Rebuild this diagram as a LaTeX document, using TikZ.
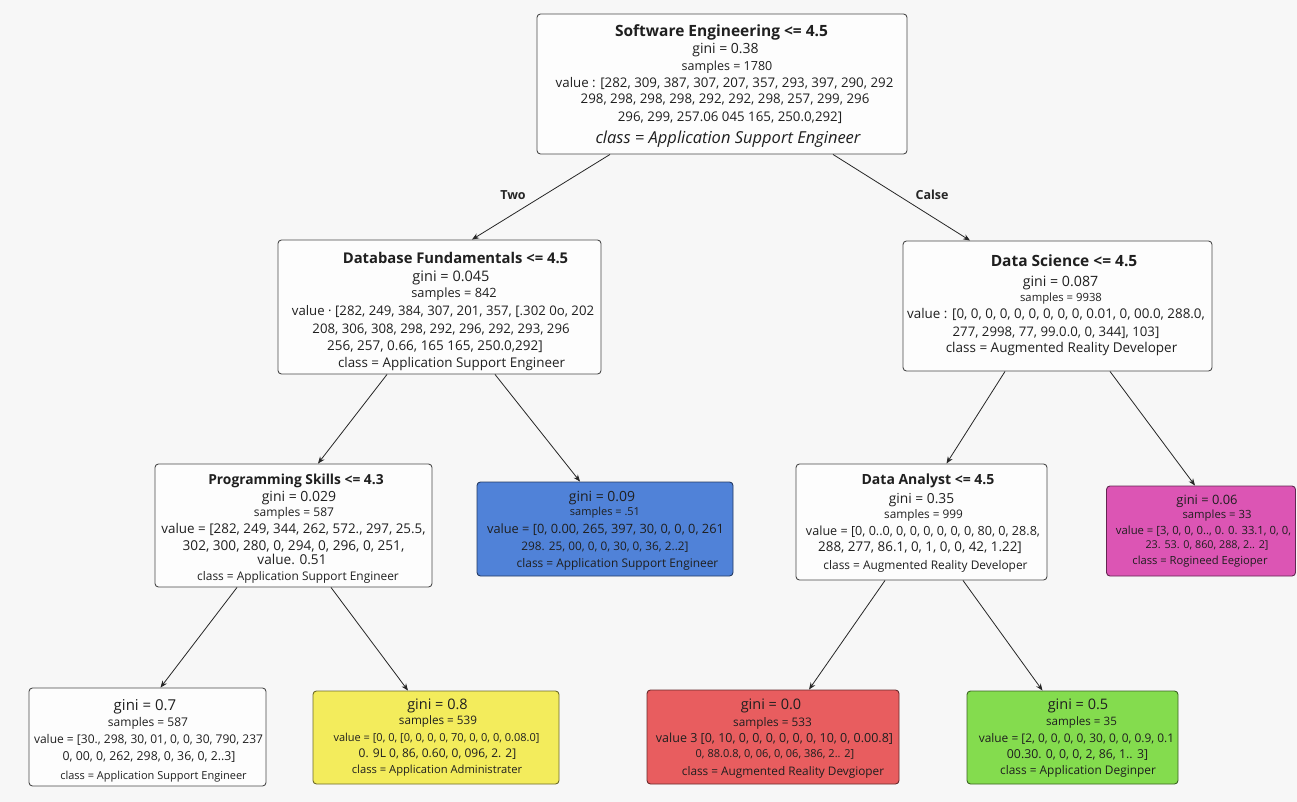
\documentclass[tikz,border=0pt]{standalone}
\usepackage{fontspec}
\setmainfont{Open Sans}
\usetikzlibrary{arrows.meta}
\definecolor{bgc}{HTML}{F7F7F7}
\definecolor{boxw}{HTML}{FDFDFD}
\definecolor{edgec}{HTML}{4A4A4A}
\definecolor{blueleaf}{HTML}{5082D8}
\definecolor{magleaf}{HTML}{DC55B4}
\definecolor{yelleaf}{HTML}{F3EC5C}
\definecolor{redleaf}{HTML}{E85D5F}
\definecolor{grnleaf}{HTML}{84DC4E}
\newcommand\mkline[5]{\node[lnx, font=\fontsize{#4}{#4}\selectfont] (#1) at (#2,{#3+0.34*#4}) {#5};}
\begin{document}
\begin{tikzpicture}[x=1pt,y=-1pt,
  box/.style={draw=edgec, line width=0.9pt, rounded corners=3.5pt, fill=boxw, inner sep=0pt},
  leaf/.style={box, fill=#1, draw=#1!45!black},
  arr/.style={-{Stealth[length=7pt,width=5.5pt]}, line width=0.8pt, draw=black!85},
  lnx/.style={anchor=base, inner sep=0pt, text=black!88},
  elab/.style={inner sep=0pt, text=black!85, font=\fontsize{12.5}{15}\selectfont\bfseries}]
\fill[bgc] (0,0) rectangle (1297,802);
\useasboundingbox (0,0) rectangle (1297,802);

% boxes
\node[box, minimum width=370pt, minimum height=140pt] (root) at (722,84) {};
\node[box, minimum width=323pt, minimum height=134pt] (L) at (439.5,307) {};
\node[box, minimum width=309pt, minimum height=130pt] (R) at (1057.5,306) {};
\node[box, minimum width=277pt, minimum height=123pt] (P) at (293.5,525.5) {};
\node[leaf=blueleaf, minimum width=256pt, minimum height=94pt] (B) at (605,529) {};
\node[box, minimum width=251pt, minimum height=116pt] (D) at (921.5,522) {};
\node[leaf=magleaf, minimum width=189pt, minimum height=90pt] (M) at (1201,531) {};
\node[box, minimum width=237pt, minimum height=98pt] (W) at (147.5,737) {};
\node[leaf=yelleaf, minimum width=246pt, minimum height=93pt] (Y) at (436,737.5) {};
\node[leaf=redleaf, minimum width=252pt, minimum height=94pt] (Rd) at (773,737) {};
\node[leaf=grnleaf, minimum width=211pt, minimum height=93pt] (G) at (1072.5,737.5) {};

% root
\mkline{rt1}{721.5}{31}{15.5}{\bfseries Software Engineering <= 4.5}
\mkline{rt2}{725.5}{49}{14}{gini = 0.38}
\mkline{rt3}{727}{66}{12.5}{samples = 1780}
\mkline{rt4}{724.5}{83}{13.3}{value : [282, 309, 387, 307, 207, 357, 293, 397, 290, 292}
\mkline{rt5}{725}{99}{13.3}{298, 298, 298, 298, 292, 292, 298, 257, 299, 296}
\mkline{rt6}{730}{117}{13.3}{296, 299, 257.06 045 165, 250.0,292]}
\mkline{rt7}{728}{138}{16.5}{\itshape class = Application Support Engineer}

% left level 2
\mkline{l1}{455.5}{258}{14.8}{\bfseries Database Fundamentals <= 4.5}
\mkline{l2}{451}{277}{14.5}{gini = 0.045}
\mkline{l3}{454}{293}{12.8}{samples = 842}
\mkline{l4}{443}{311}{13.2}{value · [282, 249, 384, 307, 201, 357, [.302 0o, 202}
\mkline{l5}{441}{329}{13.2}{208, 306, 308, 298, 292, 296, 292, 293, 296}
\mkline{l6}{435}{346}{13.5}{256, 257, 0.66, 165 165, 250.0,292]}
\mkline{l7}{451.5}{363}{13.4}{class = Application Support Engineer}

% right level 2
\mkline{r1}{1064}{261}{15.5}{\bfseries Data Science <= 4.5}
\mkline{r2}{1060.5}{282}{14.2}{gini = 0.087}
\mkline{r3}{1061}{298}{11.3}{samples = 9938}
\mkline{r4}{1056}{314}{13.4}{value : [0, 0, 0, 0, 0, 0, 0, 0, 0, 0.01, 0, 00.0, 288.0,}
\mkline{r5}{1056}{332}{13.2}{277, 2998, 77, 99.0.0, 0, 344], 103]}
\mkline{r6}{1061.5}{348}{13.5}{class = Augmented Reality Developer}

% programming skills
\mkline{p1}{296}{480}{13.8}{\bfseries Programming Skills <= 4.3}
\mkline{p2}{299}{497}{14}{gini = 0.029}
\mkline{p3}{294}{512}{12}{samples = 587}
\mkline{p4}{293.5}{529}{13.4}{value = [282, 249, 344, 262, 572., 297, 25.5,}
\mkline{p5}{293.5}{546}{13.6}{302, 300, 280, 0, 294, 0, 296, 0, 251,}
\mkline{p6}{292}{560}{13.6}{value. 0.51}
\mkline{p7}{298}{576}{11.9}{class = Application Support Engineer}

% blue leaf
\mkline{b1}{602}{497}{14}{gini = 0.09}
\mkline{b2}{605}{512}{11}{samples = .51}
\mkline{b3}{605.5}{529.5}{12.8}{value = [0, 0.00, 265, 397, 30, 0, 0, 0, 261}
\mkline{b4}{605}{546}{11.8}{298. 25, 00, 0, 0, 30, 0, 36, 2..2]}
\mkline{b5}{617.5}{563}{11.9}{class = Application Support Engineer}

% data analyst
\mkline{d1}{928}{480}{14}{\bfseries Data Analyst <= 4.5}
\mkline{d2}{921.5}{499}{13.8}{gini = 0.35}
\mkline{d3}{923.5}{514}{11.8}{samples = 999}
\mkline{d4}{923}{531}{12.6}{value = [0, 0..0, 0, 0, 0, 0, 0, 0, 80, 0, 28.8,}
\mkline{d5}{920}{547}{13.4}{288, 277, 86.1, 0, 1, 0, 0, 42, 1.22]}
\mkline{d6}{925.5}{565}{11.9}{class = Augmented Reality Developer}

% magenta leaf
\mkline{m1}{1207}{500}{12.9}{gini = 0.06}
\mkline{m2}{1217}{515}{11.3}{samples = 33}
\mkline{m3}{1203.5}{531}{11.3}{value = [3, 0, 0, 0.., 0. 0. 33.1, 0, 0,}
\mkline{m4}{1207}{545}{10.8}{23. 53. 0, 860, 288, 2.. 2]}
\mkline{m5}{1200}{561}{11.2}{class = Rogineed Eegioper}

% white leaf
\mkline{w1}{145}{705}{15}{gini = 0.7}
\mkline{w2}{148}{722}{12}{samples = 587}
\mkline{w3}{148.5}{739}{12}{value = [30., 298, 30, 01, 0, 0, 30, 790, 237}
\mkline{w4}{149}{756}{12.3}{0, 00, 0, 262, 298, 0, 36, 0, 2..3]}
\mkline{w5}{153.5}{776}{11}{class = Application Support Engineer}

% yellow leaf
\mkline{y1}{437.5}{705}{14.5}{gini = 0.8}
\mkline{y2}{438}{721}{11.7}{samples = 539}
\mkline{y3}{436.5}{738}{11}{value = [0, 0, [0, 0, 0, 0, 70, 0, 0, 0, 0.08.0]}
\mkline{y4}{437.5}{753}{12}{0. 9L 0, 86, 0.60, 0, 096, 2. 2]}
\mkline{y5}{437}{770}{11.2}{class = Application Administrater}

% red leaf
\mkline{rd1}{771}{705}{14.5}{gini = 0.0}
\mkline{rd2}{772.5}{722}{11.8}{samples = 533}
\mkline{rd3}{774.5}{738}{12.5}{value 3 [0, 10, 0, 0, 0, 0, 0, 0, 10, 0, 0.00.8]}
\mkline{rd4}{775}{754}{11}{0, 88.0.8, 0, 06, 0, 06, 386, 2.. 2]}
\mkline{rd5}{783}{771}{11.8}{class = Augmented Reality Devgioper}

% green leaf
\mkline{g1}{1078}{705}{14.5}{gini = 0.5}
\mkline{g2}{1081.5}{722}{11.6}{samples = 35}
\mkline{g3}{1076.5}{738}{11.9}{value = [2, 0, 0, 0, 0, 30, 0, 0, 0.9, 0.1}
\mkline{g4}{1077.5}{754}{12.3}{00.30. 0, 0, 0, 2, 86, 1.. 3]}
\mkline{g5}{1078}{770}{11.9}{class = Application Deginper}

% connectors
\draw[arr] ([xshift=-112pt]root.south) -- ([xshift=32.5pt]L.north);
\draw[arr] ([xshift=111pt]root.south) -- ([xshift=-87.5pt]R.north);
\draw[arr] ([xshift=-52.5pt]L.south) -- ([xshift=24.5pt]P.north);
\draw[arr] ([xshift=55.5pt]L.south) -- ([xshift=-25pt]B.north);
\draw[arr] ([xshift=-52.5pt]R.south) -- ([xshift=25pt]D.north);
\draw[arr] ([xshift=52.5pt]R.south) -- ([xshift=-6pt]M.north);
\draw[arr] ([xshift=-56.5pt]P.south) -- ([xshift=13pt]W.north);
\draw[arr] ([xshift=37.5pt]P.south) -- ([xshift=-28pt]Y.north);
\draw[arr] ([xshift=-36.5pt]D.south) -- ([xshift=36pt]Rd.north);
\draw[arr] ([xshift=41.5pt]D.south) -- ([xshift=-30pt]G.north);

\node[elab] (two) at (513,195) {Two};
\node[elab] (calse) at (932,195) {Calse};
\end{tikzpicture}
\end{document}
